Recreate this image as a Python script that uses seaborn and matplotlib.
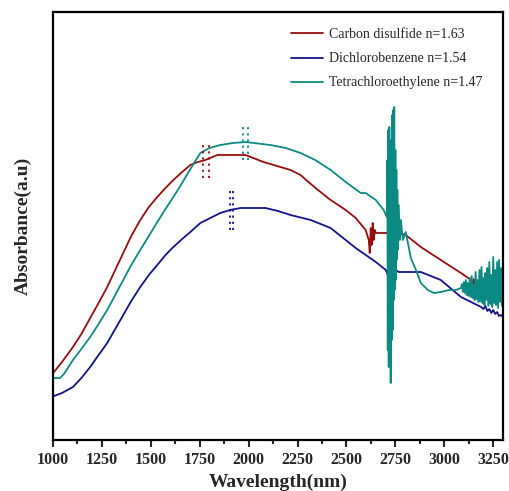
import matplotlib
matplotlib.use("Agg")
import matplotlib.pyplot as plt
import seaborn as sns
import pandas as pd
from matplotlib.ticker import MultipleLocator

# ---------------- data ----------------
cs2_wl = [1005, 1046, 1102, 1145, 1190, 1233, 1277, 1359, 1400, 1446, 1490, 1533,
          1575, 1615, 1660, 1702, 1740, 1779, 1840, 1984, 2076, 2145, 2214, 2265,
          2300, 2342, 2380, 2419, 2496, 2547, 2598, 2614, 2619, 2624, 2629, 2634,
          2639, 2645, 2650, 2675, 2767, 2803, 2880, 2982, 3085, 3137, 3145, 3150,
          3158, 3165, 3172, 3180, 3188, 3195, 3203]
cs2_abs = [0.68, 0.78, 0.93, 1.06, 1.22, 1.37, 1.53, 1.87, 2.04, 2.20, 2.33, 2.43,
           2.52, 2.60, 2.68, 2.75, 2.78, 2.80, 2.85, 2.85, 2.78, 2.74, 2.70, 2.65,
           2.59, 2.52, 2.46, 2.40, 2.30, 2.22, 2.10, 2.00, 1.87, 2.12, 1.95, 2.17,
           2.00, 2.10, 2.07, 2.07, 2.07, 2.05, 1.93, 1.80, 1.67, 1.60, 1.55, 1.61,
           1.53, 1.58, 1.51, 1.56, 1.49, 1.53, 1.50]

dcb_wl = [1005, 1046, 1102, 1145, 1190, 1233, 1277, 1318, 1359, 1400, 1446, 1490,
          1533, 1575, 1615, 1660, 1702, 1753, 1855, 1905, 1958, 2086, 2150, 2214,
          2317, 2419, 2496, 2547, 2650, 2701, 2711, 2716, 2721, 2726, 2732, 2737,
          2742, 2747, 2752, 2767, 2880, 2982, 3085, 3188, 3200, 3210, 3220, 3230,
          3240, 3250, 3260, 3270, 3280, 3290, 3300]
dcb_abs = [0.44, 0.47, 0.53, 0.62, 0.73, 0.85, 0.97, 1.11, 1.25, 1.39, 1.53, 1.65,
           1.75, 1.85, 1.93, 2.01, 2.08, 2.17, 2.27, 2.30, 2.32, 2.32, 2.29, 2.25,
           2.20, 2.12, 2.00, 1.92, 1.78, 1.70, 1.65, 1.57, 1.72, 1.53, 1.70, 1.60,
           1.73, 1.64, 1.70, 1.68, 1.68, 1.60, 1.43, 1.33, 1.31, 1.34, 1.29, 1.31,
           1.27, 1.30, 1.26, 1.28, 1.24, 1.25, 1.23]

tce_wl = [1005, 1036, 1056, 1102, 1145, 1190, 1233, 1277, 1318, 1359, 1400, 1446,
          1490, 1533, 1575, 1615, 1660, 1702, 1753, 1800, 1855, 1920, 1984, 2111,
          2190, 2265, 2340, 2419, 2496, 2573, 2598, 2650, 2690, 2706, 2709, 2711,
          2714, 2716, 2719, 2721, 2724, 2726, 2729, 2732, 2734, 2737, 2739, 2742,
          2744, 2747, 2750, 2752, 2755, 2757, 2760, 2762, 2767, 2773, 2778, 2788,
          2803, 2829, 2855, 2880, 2916, 2947, 2982, 3024, 3060] + list(range(3085, 3301, 5))
tce_abs = [0.62, 0.62, 0.66, 0.80, 0.91, 1.03, 1.16, 1.30, 1.45, 1.60, 1.75, 1.90,
           2.04, 2.18, 2.31, 2.43, 2.57, 2.71, 2.87, 2.92, 2.95, 2.97, 2.98, 2.95,
           2.92, 2.87, 2.80, 2.70, 2.58, 2.47, 2.47, 2.40, 2.30, 2.23, 2.80, 0.90,
           3.10, 0.73, 3.13, 1.10, 2.90, 0.57, 3.00, 1.00, 3.25, 1.10, 3.30, 1.40,
           3.33, 1.50, 2.90, 1.60, 2.70, 1.80, 2.50, 1.90, 2.35, 2.00, 2.20, 2.00,
           2.08, 1.82, 1.70, 1.57, 1.50, 1.47, 1.48, 1.50, 1.50,
           1.52, 1.56, 1.48, 1.58, 1.47, 1.60, 1.45, 1.57, 1.44, 1.62, 1.43, 1.64,
           1.42, 1.55, 1.40, 1.68, 1.41, 1.60, 1.38, 1.70, 1.39, 1.73, 1.37, 1.62,
           1.35, 1.67, 1.40, 1.72, 1.34, 1.78, 1.36, 1.65, 1.33, 1.83, 1.37, 1.70,
           1.35, 1.78, 1.32, 1.80, 1.38, 1.72, 1.34, 1.65]

labels = ["Carbon disulfide n=1.63", "Dichlorobenzene n=1.54", "Tetrachloroethylene n=1.47"]
colors = ["#9a0c0c", "#12128e", "#0b8a84"]

# peak markers (pairs of dotted verticals): wavelength pair, lower, upper
peak_wl = [(1768, 1799), (1907, 1922), (1973, 1999)]
peak_lo = [2.62, 2.10, 2.80]
peak_hi = [2.97, 2.50, 3.15]

# ---------------- plotting ----------------
sns.set_theme(style="ticks")
plt.rcParams["font.family"] = ["Liberation Serif", "DejaVu Serif"]

fig = plt.figure(figsize=(5.10, 4.91), dpi=100)
ax = fig.add_axes([53 / 510, 51 / 491, 450 / 510, 428 / 491])

frames = []
for wl, ab, lab in zip([cs2_wl, dcb_wl, tce_wl], [cs2_abs, dcb_abs, tce_abs], labels):
    frames.append(pd.DataFrame({"Wavelength": wl, "Absorbance": ab, "Solvent": lab}))
df = pd.concat(frames, ignore_index=True)

sns.lineplot(data=df, x="Wavelength", y="Absorbance", hue="Solvent",
             palette=dict(zip(labels, colors)), estimator=None, sort=False,
             linewidth=1.3, ax=ax)

for (w1, w2), lo, hi, c in zip(peak_wl, peak_lo, peak_hi, colors):
    for w in (w1, w2):
        ax.plot([w, w], [lo, hi], color=c, lw=1.3, ls=(0, (1.2, 2.2)))

ax.set_xlim(1000, 3300)
ax.set_ylim(0, 4.28)
ax.set_yticks([])
ax.xaxis.set_major_locator(MultipleLocator(250))
ax.xaxis.set_minor_locator(MultipleLocator(125))
ax.tick_params(axis="x", which="major", direction="out", length=5, width=1.5,
               labelsize=11.5, pad=4)
ax.tick_params(axis="x", which="minor", direction="out", length=3, width=1.5)
for lab in ax.get_xticklabels():
    lab.set_fontweight("bold")
for s in ax.spines.values():
    s.set_visible(True)
    s.set_linewidth(1.6)
    s.set_color("black")

ax.set_xlabel("Wavelength(nm)", fontsize=14, fontweight="bold", labelpad=4)
ax.set_ylabel("Absorbance(a.u)", fontsize=14, fontweight="bold", labelpad=15)

leg = ax.legend(loc="upper left", bbox_to_anchor=(0.529, 0.962), frameon=False,
                fontsize=10, handlelength=2.3, handletextpad=0.4,
                labelspacing=0.8, borderaxespad=0, borderpad=0)
for line in leg.get_lines():
    line.set_linewidth(1.3)

fig.savefig("out.png", dpi=100)
